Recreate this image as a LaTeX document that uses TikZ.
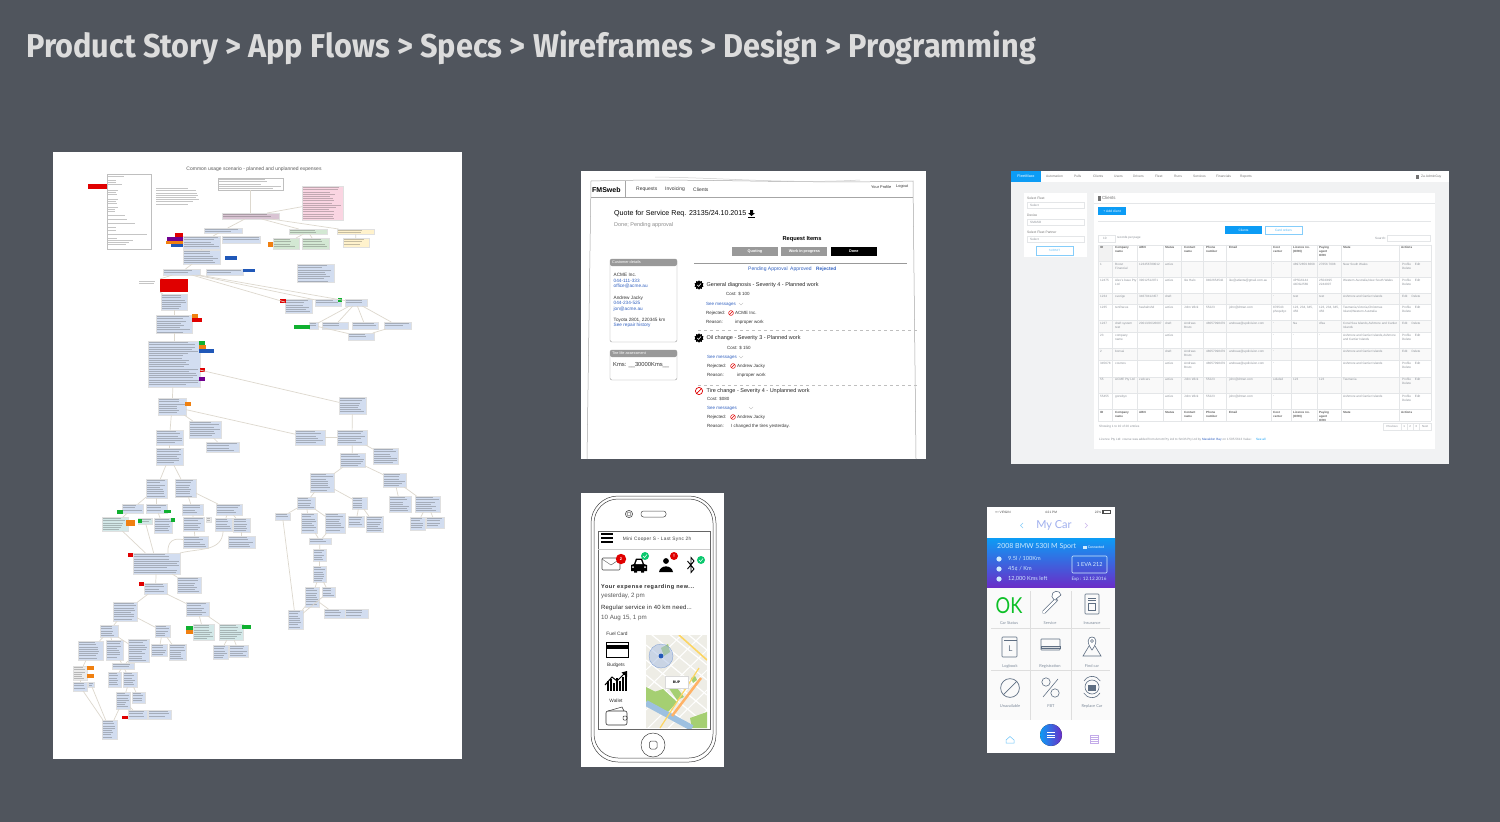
\documentclass[tikz,border=0pt]{standalone}
\usepackage{fontspec}
\setmainfont{Liberation Sans}
\newfontfamily\titlefont{Fira Sans}
\newfontfamily\carfont{Lato}
\usetikzlibrary{shapes.geometric, positioning}

\definecolor{slidebg}{HTML}{50555D}
\definecolor{titlegrey}{HTML}{DCDCDC}
\definecolor{flowblue}{HTML}{D2DDF0}
\definecolor{flowgreen}{HTML}{D3E8D3}
\definecolor{flowyellow}{HTML}{FFF2CC}
\definecolor{flowpink}{HTML}{FAD5E2}
\definecolor{flowmauve}{HTML}{D9C4D3}
\definecolor{flowteal}{HTML}{D3E8E8}
\definecolor{flowline}{HTML}{DDD8CE}
\definecolor{barred}{HTML}{E00000}
\definecolor{barorange}{HTML}{F08010}
\definecolor{bargreen}{HTML}{10B030}
\definecolor{barblue}{HTML}{2058B8}
\definecolor{barpurple}{HTML}{700090}
\definecolor{linkblue}{HTML}{3060C0}
\definecolor{cardgrey}{HTML}{999999}
\definecolor{sky}{HTML}{0C9CF5}
\definecolor{tabletext}{HTML}{8A8F96}
\definecolor{tableline}{HTML}{E4E6E8}
\definecolor{pagegrey}{HTML}{F1F2F3}
\definecolor{slate}{HTML}{5E6E82}
\definecolor{violet}{HTML}{6A2EC8}
\definecolor{mapbeige}{HTML}{EEEDE6}
\definecolor{mapgreen}{HTML}{A5CF72}
\definecolor{mapwater}{HTML}{9DC0E0}

\tikzset{
	flowbox/.style = {draw = black!12, line width = 0.3pt, inner sep = 0, outer sep = 0},
	inkline/.style = {draw = black!75, line width = 0.9pt, opacity = 0.3},
	connector/.style = {draw = flowline, line width = 0.7pt},
	wiretext/.style = {anchor = west, inner sep = 0, font = \fontsize{4.5}{5}\selectfont, text = black!80},
	wirehead/.style = {anchor = west, inner sep = 0, font = \fontsize{5.5}{6}\selectfont, text = black!85},
	wirelink/.style = {wiretext, text = linkblue},
	wirebtn/.style = {inner sep = 0, minimum height = 9pt, minimum width = 46pt, font = \bfseries\fontsize{3.8}{4}\selectfont, text = white},
	cell/.style = {anchor = north west, align = left, inner sep = 0, font = \fontsize{3.1}{4}\selectfont, text = tabletext},
	navtext/.style = {anchor = west, inner sep = 0, font = \fontsize{3.3}{4}\selectfont, text = black!55},
	phonetext/.style = {anchor = west, inner sep = 0, font = \fontsize{6.2}{7}\selectfont, text = black!85},
	cartext/.style = {inner sep = 0, font = \carfont\fontsize{4}{5}\selectfont, text = slate!80},
	banner/.style = {anchor = west, inner sep = 0, font = \carfont\fontsize{5.6}{6}\selectfont, text = white!80!sky},
	caricon/.style = {draw = slate, line width = 0.6pt},
	stopsign/.pic = {
		\draw [pic actions] (0, 0) circle (1);
		\draw [pic actions] (-0.7, 0.7) -- (0.7, -0.7);
	},
	badge/.pic = {
		\node [star, star points = 10, star point ratio = 1.3, fill = black, inner sep = 0, minimum size = 9.5pt] {};
		\draw [white, line width = 0.6pt] (-1.8, 0) -- (-0.4, 1.4) -- (2, -1.5);
	},
}

% boxes of the flow chart: name/x0/y0/x1/y1, each filled with lines of small print
\newcommand{\flowboxes}[2]{%
	\foreach \n/\xa/\ya/\xb/\yb in {#2} {
		\pgfmathsetmacro\bw{\xb - \xa}
		\pgfmathsetmacro\bh{\yb - \ya}
		\node [flowbox, #1, minimum width = \bw pt, minimum height = \bh pt] (\n) at ({(\xa + \xb) / 2}, {(\ya + \yb) / 2}) {};
		\pgfmathsetmacro\ltop{\ya + 1.6}
		\pgfmathsetmacro\lnext{\ya + 3.8}
		\pgfmathsetmacro\lend{\yb - 1}
		\foreach \ly in {\ltop, \lnext, ..., \lend} {
			\pgfmathsetmacro\ll{(\bw - 2) * (0.65 + 0.35 * rnd)}
			\ifdim \ly pt < \lend pt
				\draw [inkline] (\xa + 1, \ly) -- ++(\ll, 0);
			\fi
		}
	}
}

\begin{document}
\begin{tikzpicture}[x = 1pt, y = -1pt]
	\pgfmathsetseed{42}
	\useasboundingbox (0, 0) rectangle (1500, 822);
	\fill [slidebg] (0, 0) rectangle (1500, 822);

	\node [anchor = west, inner sep = 0, text = titlegrey, font = \titlefont\bfseries\fontsize{33}{36}\selectfont] (title) at (26, 47.5)
		{\scalebox{0.93}[1]{Product Story > App Flows > Specs > Wireframes > Design > Programming}};

	% product story flow chart
	\fill [white] (53, 152) rectangle (462, 759);
	\node [inner sep = 0, text = black!65, font = \fontsize{5}{6}\selectfont] (storytitle) at (254, 169) {Common usage scenario - planned and unplanned expenses};

	\node [flowbox, draw = black!25, minimum width = 44pt, minimum height = 75pt] (legend) at (129, 211.5) {};
	\foreach \y/\w in {176/16, 180.5/8, 182.5/8, 184.5/14, 190.5/10, 192.5/8, 194.5/9, 199/10, 201/8, 203/9, 207.5/10, 209.5/7, 211.5/7, 215.5/17, 219.5/19, 223.5/27, 227.5/8, 230/8, 234/39, 238.5/9, 240.5/25, 242.5/21, 244.5/18}
		\draw [inkline, line width = 0.6pt] (108, \y) -- ++(\w, 0);
	\flowboxes{fill = white, draw = black!25}{top/218/178/283/190}
	\flowboxes{draw = none}{note/155/187/202/205, side/138/280/157/286}
	\flowboxes{fill = flowpink}{pink/302/186/343/220}
	\flowboxes{fill = flowmauve}{mauve/222/213/279/219}
	\flowboxes{fill = flowgreen}{gh/289/229/327/234, g2/273/238/299/249, g3/302/238/329/249}
	\flowboxes{fill = flowyellow}{yh/337/229/374/234, y2/343/238/369/247}
	\flowboxes{fill = flowteal}{a5/102/517/128/531, a6/138/518/152/524, e3/193/624/214/640, e4/219/624/243/640}
	\flowboxes{fill = black!8}{gmap/73/666/87/680, a10b/206/517/211/522}
	\flowboxes{fill = flowblue}{
		b1/204/228/242/233, b2/183/236/220/249, b3/222/236/260/243, b4/183/250/220/264,
		b5/163/269/200/275, b6/206/269/243/275, b7/297/264/334/282, b8/161/294/187/310,
		b9/156/315/192/333, b10/285/299/312/313, b11/315/299/341/306, b12/345/299/367/306,
		b13/309/322/318/329, b14/322/322/348/329, b15/352/322/378/329, b16/384/322/411/329,
		b17/348/333/374/340, big/148/341/200/387, b18/158/398/186/415, b19/339/397/366/414,
		b20/156/430/183/445, b21/189/421/221/438, b22/206/442/239/452, b23/295/430/325/445,
		b24/337/430/367/445, b25/156/448/183/465, b26/340/453/365/467, b27/373/448/398/464,
		a1/146/479/167/498, a2/175/479/196/497, a3/122/504/143/513, a4/146/504/167/513,
		a7/154/518/172/533, a8/182/504/203/515, a9/216/504/242/515, a10/183/517/204/531,
		a11/215/518/232/531, a12/233/518/250/532, a13/183/536/208/548, a14/228/536/255/548,
		bigb/133/553/180/574, c1/177/577/201/593, c2/144/583/167/594, d1/113/602/137/621,
		d2/186/602/209/616, e1/100/625/118/637, e2/155/625/170/637, f1/78/641/103/660,
		f2/106/640/123/660, f3/128/639/149/662, f4/151/644/167/656, f5/169/644/186/660,
		f6/213/645/228/659, f7/229/645/248/657, g0/112/663/134/669, g1/108/672/121/687,
		g2b/123/672/137/687, h1/73/682/87/691, h2/88/682/94/687, i1/116/692/130/709,
		i2/132/692/145/703, j1/128/710/147/719, j2/148/710/171/719, k1/102/720/117/739,
		r1/310/473/334/492, r2/383/473/406/487, r3/297/497/315/509, r4/352/497/367/509,
		r5/389/496/411/512, r6/415/496/440/512, r7/275/513/290/520, r8/301/513/317/533,
		r9/325/513/345/533, r10/348/516/364/527, r11/366/516/383/532, r12/410/517/425/530,
		r13/426/517/444/528, r14/309/538/331/544, r15/313/549/326/561, r16/313/566/326/582,
		r17/305/587/319/607, r18/322/587/335/597, r19/288/610/303/629, r20/324/609/345/618,
		r21/345/609/368/618}
	\foreach \c/\xa/\ya/\xb/\yb in {
		barred/88/184/107/189, barred/175/233/183/237, barpurple/167/237/183/241, barorange/166/241/183/244,
		barblue/171/244/183/247, barorange/268/242/273/247, barblue/225/256/237/260, barblue/243/269/255/272,
		barred/160/279/188/292, barorange/192/314/198/318, barred/192/318/202/322, barred/280/299/286/303,
		bargreen/338/298/342/302, bargreen/294/325/310/329, bargreen/199/341/205/345, barorange/199/345/206/349,
		barblue/199/349/214/353, barred/200/368/205/372, barpurple/199/377/205/381, barorange/185/402/191/406,
		bargreen/117/510/123/514, bargreen/164/510/171/513, barorange/126/520/135/526, bargreen/138/519/142/523,
		bargreen/171/518/175/522, barred/128/553/133/557, barred/139/582/144/586, bargreen/186/626/193/630,
		barorange/186/630/193/634, bargreen/242/625/251/629, barorange/87/666/94/670, barorange/87/674/94/678,
		barred/122/716/128/719}
		\fill [\c] (\xa, \ya) rectangle (\xb, \yb);
	\foreach \p/\q in {
		top/mauve, mauve/pink, mauve/b1, mauve/gh, mauve/yh, gh/g2, gh/g3, yh/y2, b1/b2, b2/b4, b4/b5, b5/b10, b5/b11, b5/b12,
		b12/b13, b12/b14, b12/b15, b12/b16, b13/b17, b16/b17, b8/b9, b9/big, big/b18, big/b19, b18/b20, b18/b21,
		b18/b23, b21/b22, b19/b24, b23/b24, b24/b26, b24/b27, b20/b25, b25/a1, b25/a2, a1/a3, a1/a4, a3/a5, a4/a7,
		a2/a8, a2/a9, a8/a10, a9/a11, a9/a12, a10/a13, a12/a14, a5/bigb, a6/bigb, bigb/c1, bigb/c2, c2/d1, c2/d2,
		d1/e1, d1/e2, d2/e3, d2/e4, e1/f1, e1/f2, e1/f3, e2/f4, e2/f5, e4/f6, e4/f7, f2/g0, f3/g0, g0/g1, g0/g2b,
		f1/gmap, gmap/h1, g2b/i1, g2b/i2, i1/j1, i1/k1, h1/k1, h2/k1, b26/r1, b26/r2, r1/r3, r1/r4, r2/r5, r2/r6,
		r3/r7, r3/r8, r3/r9, r4/r10, r4/r11, r6/r12, r6/r13, r8/r14, r9/r14, r14/r15, r15/r16, r16/r17, r16/r18,
		r17/r19, r18/r19, r17/r20, r19/r7, r20/r21}
		\draw [connector] (\p) -- (\q);
	\draw [connector] (b5) -- (160, 279);
	\draw [connector] (160, 292) -- (b8);
	\draw [connector] (a13) .. controls (175, 538) and (167, 540) .. (168, 553);
	\draw [connector] (a11) .. controls (222, 552) and (200, 548) .. (180, 553);

	% specs wireframe
	\fill [white] (581, 171) rectangle (926, 459);
	\draw [black!35, line width = 0.5pt] (591, 181) .. controls (700, 178) and (800, 184) .. (913, 181) -- (916, 459);
	\draw [black!35, line width = 0.5pt] (591, 181) -- (587, 459);
	\draw [black!20, line width = 0.5pt] (655, 177) .. controls (730, 178) and (790, 184) .. (860, 180);
	\draw [black!35, line width = 0.5pt] (591, 197) -- (913, 197);
	\draw [black!35, line width = 0.5pt] (625, 181) -- (625, 197);
	\node [anchor = west, inner sep = 0, font = \bfseries\fontsize{7}{8}\selectfont] (brand) at (592, 190) {FMSweb};
	\foreach \x/\t in {636/Requests, 665/Invoicing, 693/Clients}
		\node [wiretext, font = \fontsize{5}{6}\selectfont] (nav\t) at (\x, 189.5) {\t};
	\node [wiretext, font = \fontsize{3.9}{4}\selectfont] (profile) at (871, 187) {Your Profile};
	\node [wiretext, font = \fontsize{3.9}{4}\selectfont] (logout) at (896, 187) {Logout};
	\node [anchor = west, inner sep = 0, font = \fontsize{7.1}{8}\selectfont] (quote) at (614, 213.5) {Quote for Service Req. 23135/24.10.2015};
	\fill (750, 210) rectangle (753, 213) -- (755, 213) -- (751.5, 216) -- (748, 213) -- (750, 213);
	\draw [line width = 0.7pt] (748, 217.5) -- (755, 217.5);
	\node [wiretext, font = \fontsize{5.5}{6}\selectfont, text = black!45] (state) at (614, 225.5) {Done; Pending approval};
	\node [inner sep = 0, font = \bfseries\fontsize{5.7}{6}\selectfont] (items) at (802, 239) {Request Items};
	\node [wirebtn, fill = cardgrey] (quoting) at (755, 251.5) {Quoting};
	\node [wirebtn, fill = cardgrey, right = 3pt of quoting] (progress) {Work in progress};
	\node [wirebtn, fill = black, right = 3pt of progress] (done) {Done};
	\draw [black!40, line width = 0.5pt] (694, 263.5) -- (907, 263.5);
	\node [wirelink, font = \fontsize{5}{6}\selectfont] (pending) at (748, 269) {Pending Approval};
	\node [wirelink, font = \fontsize{5}{6}\selectfont] (approved) at (790, 269) {Approved};
	\node [wirelink, font = \bfseries\fontsize{4.8}{6}\selectfont] (rejected) at (816, 269) {Rejected};

	\draw [black!40, fill = white, rounded corners = 2pt] (610, 259) rectangle (677, 342);
	\fill [cardgrey, rounded corners = 2pt] (610, 259) rectangle (677, 266);
	\node [wiretext, text = white, font = \fontsize{3.8}{4}\selectfont] (custhead) at (612, 262.5) {Customer details};
	\draw [black!40, fill = white, rounded corners = 2pt] (610, 350) rectangle (677, 380);
	\fill [cardgrey, rounded corners = 2pt] (610, 350) rectangle (677, 357);
	\node [wiretext, text = white, font = \fontsize{3.8}{4}\selectfont] (tirehead) at (612, 353.5) {Tire life assessment};
	\node [wiretext, font = \fontsize{5.8}{7}\selectfont] (kms) at (613, 365) {Kms: \_\_30000Kms\_\_};
	\foreach \y/\t [count = \i] in {275/ACME Inc., 298/Andrew Jacky, 320/{Toyota 2801, 220345 km}}
		\node [wiretext, font = \fontsize{4.7}{5}\selectfont] (cust\i) at (613.5, \y) {\t};
	\foreach \y/\t [count = \i] in {281/044-111-333, 286/office@acme.au, 303/044-234-525, 309/jon@acme.au, 325/See repair history}
		\node [wirelink, font = \fontsize{4.7}{5}\selectfont] (contact\i) at (613.5, \y) {\t};

	\foreach \y/\t [count = \i] in {285/General diagnosis - Severity 4 - Planned work, 338/Oil change - Severity 3 - Planned work, 391/Tire change - Severity 4 - Unplanned work}
		\node [wirehead] (item\i) at (706.5, \y) {\t};
	\pic at (699, 285) {badge};
	\pic at (699, 338) {badge};
	\pic [draw = barred, line width = 0.7pt, scale = 3.6] at (699, 391) {stopsign};
	\foreach \x/\y/\t [count = \i] in {
		726/294/{Cost: \$ 100}, 727/348/{Cost: \$ 150}, 707/399/{Cost: \$080},
		706/313/Rejected:, 735/313/ACME Inc., 706/322/Reason:, 735/322/improper work,
		707/366/Rejected:, 737/366/Andrew Jacky, 707/375/Reason:, 737/375/improper work,
		707/417/Rejected:, 737/417/Andrew Jacky, 707/426/Reason:, 731/426/I changed the tires yesterday.}
		\node [wiretext] (detail\i) at (\x, \y) {\t};
	\foreach \x/\y [count = \i] in {706/304, 707/357, 707/408}
		\node [wirelink] (messages\i) at (\x, \y) {See messages};
	\foreach \x/\y in {741/304, 741/357, 751/408}
		\draw [black!35, line width = 0.3pt] (\x - 2, \y - 1) -- (\x, \y + 1) -- (\x + 2, \y - 1);
	\foreach \x/\y in {731/313, 733/366, 733/417}
		\pic [draw = barred, line width = 0.5pt, scale = 2.4] at (\x, \y) {stopsign};
	\foreach \y in {330, 385}
		\draw [black!25, dashed, line width = 0.3pt] (698, \y) -- (919, \y);

	% programming: the running web application
	\fill [pagegrey] (1011, 171) rectangle (1449, 464);
	\fill [white] (1011, 171) rectangle (1449, 182);
	\fill [sky] (1011, 171) rectangle (1041, 182);
	\node [inner sep = 0, text = white, font = \fontsize{3.7}{4}\selectfont] (brandapp) at (1026, 176.5) {FleetMaxx};
	\foreach \x/\t in {1046/Automation, 1074/Pulls, 1093/Clients, 1114/Users, 1133/Drivers, 1155/Fleet, 1174/Runs, 1193/Services, 1216/Financials, 1240/Reports}
		\node [navtext] (app\t) at (\x, 176.5) {\t};
	\node [navtext] (admin) at (1421, 176.5) {Za AdminGuy};
	\fill [black!55] (1416, 174.5) rectangle (1419, 178.5);

	\fill [white] (1024, 193) rectangle (1087, 257);
	\foreach \y/\t/\v [count = \i] in {198/Select Fleet/Select, 215/Device/SMASO, 232/Select Fleet Partner/Select} {
		\node [navtext] (fleetlabel\i) at (1027, \y) {\t};
		\draw [tableline, line width = 0.4pt] (1027, \y + 4) rectangle (1084, \y + 10);
		\node [cell, anchor = west] (fleetvalue\i) at (1030, \y + 7) {\v};
	}
	\node [draw = sky!50, line width = 0.5pt, fill = white, inner sep = 0, minimum width = 37pt, minimum height = 8.5pt, text = sky!60, font = \fontsize{3}{4}\selectfont] (submit) at (1054.5, 250.5) {SUBMIT};

	\fill [white] (1094, 193) rectangle (1435, 449);
	\draw [tableline, line width = 0.4pt] (1094, 203) -- (1435, 203);
	\draw [tableline, line width = 0.4pt] (1098, 221) -- (1431, 221);
	\fill [black!55] (1098, 196) rectangle (1101, 200.5);
	\node [navtext, font = \fontsize{4.4}{5}\selectfont] (clients) at (1102, 198) {Clients};
	\node [fill = sky, inner sep = 0, minimum width = 28pt, minimum height = 8pt, text = white, font = \fontsize{3.3}{4}\selectfont] (addclient) at (1112, 211) {+ Add client};
	\node [fill = sky, inner sep = 0, minimum width = 37pt, minimum height = 8pt, text = white, font = \fontsize{3.2}{4}\selectfont] (tabclients) at (1243.5, 230) {Clients};
	\node [draw = sky!50, line width = 0.5pt, inner sep = 0, minimum width = 37pt, minimum height = 8pt, text = sky!70, font = \fontsize{3.2}{4}\selectfont] (taborders) at (1283.5, 230) {Card orders};
	\draw [tableline, line width = 0.4pt] (1098, 235) rectangle (1115, 242);
	\node [cell, anchor = west] (pagesize) at (1103, 238.5) {10};
	\node [cell, anchor = west] (perpage) at (1117, 238) {records per page};
	\node [cell, anchor = west] (search) at (1375, 238) {Search:};
	\draw [tableline, line width = 0.4pt] (1387, 235) rectangle (1430, 241);

	\foreach \ya/\yb in {260.7/276.7, 293.3/303.7, 320/332, 348.3/360.3, 376.7/393}
		\fill [black!2.5] (1098.3, \ya) rectangle (1430.7, \yb);
	\fill [black!5] (1098.3, 244.7) rectangle (1112.3, 260.7);
	\foreach \y in {244.7, 260.7, 276.7, 293.3, 303.7, 320, 332, 348.3, 360.3, 376.7, 393, 409.3, 421.3}
		\draw [tableline, line width = 0.3pt] (1098.3, \y) -- (1430.7, \y);
	\foreach \x in {1098.3, 1112.3, 1137.3, 1163.3, 1181.3, 1203.3, 1226.3, 1270.7, 1291.3, 1317.3, 1341.3, 1399.3, 1430.7}
		\draw [tableline, line width = 0.3pt] (\x, 244.7) -- (\x, 421.3);
	\foreach \y in {246, 411} {
		\foreach \x/\t in {1100/ID, 1115/Company\\name, 1139/ABN, 1165/Status, 1184/Contact\\name, 1206/Phone\\number, 1229/Email, 1273/Cost\\center, 1293/Licence no.\\(ORN), 1319/Paying\\agent\\ORN, 1343/State, 1401/Actions}
			\node [cell, text = black!65, font = \bfseries\fontsize{3}{4}\selectfont] at (\x, \y) {\t};
	}
	\foreach \y/\t in {263/Boost\\Financial, 279.5/Alex's base Pty\\Ltd, 295.5/sverige, 306/tenRacus, 322/draft system\\test, 334.5/company\\name, 350.5/bonsai, 362.5/cosmos, 378.5/ACME Pty Ltd, 395/gorwbyn}
		\node [cell] at (1115, \y) {\t};
	\foreach \y/\t in {263/1, 279.5/12475, 295.5/1234, 306/1235, 322/1237, 334.5/23, 350.5/2, 362.5/345678, 378.5/55, 395/55455}
		\node [cell] at (1100, \y) {\t};
	\foreach \y/\t in {263/active, 279.5/active, 295.5/draft, 306/active, 322/draft, 334.5/active, 350.5/draft, 362.5/active, 378.5/active, 395/active}
		\node [cell] at (1165, \y) {\t};
	\foreach \y/\t in {263/123456789012, 279.5/39012512971, 295.5/34670412457, 306/hashahshd, 322/{20013/26/26097}, 378.5/zedcars}
		\node [cell] at (1139, \y) {\t};
	\foreach \y/\t in {279.5/Ike Halo, 306/John Wick, 322/Andreas\\Bruto, 350.5/Andreas\\Bruto, 362.5/Andreas\\Bruto, 378.5/John Wick, 395/John Wick}
		\node [cell] at (1184, \y) {\t};
	\foreach \y/\t in {279.5/0402654542, 306/55223, 322/48057098479, 350.5/48057098479, 362.5/48057098479, 378.5/55223, 395/55223}
		\node [cell] at (1206, \y) {\t};
	\foreach \y/\t in {279.5/ike@atlanta@gmail.com.au, 306/john@drtran.com, 322/andreas@updivision.com, 350.5/andreas@updivision.com, 362.5/andreas@updivision.com, 378.5/john@drtran.com, 395/john@drtran.com}
		\node [cell] at (1229, \y) {\t};
	\foreach \y/\t in {263/-, 279.5/-, 295.5/-, 306/876543\\phoqeltyc, 322/-, 334.5/-, 350.5/-, 362.5/-, 378.5/sdsdsd, 395/-}
		\node [cell] at (1273, \y) {\t};
	\foreach \y/\t in {263/48972859 8668, 279.5/4P5G6144\\44DG2569, 295.5/test, 306/{123, 234, 345,\\456}, 322/Na, 334.5/-, 378.5/123}
		\node [cell] at (1293, \y) {\t};
	\foreach \y/\t in {263/27656 7008, 279.5/{2504/495\\2244007}, 295.5/test, 306/{123, 234, 345,\\456}, 322/dfsa, 334.5/-, 378.5/123}
		\node [cell] at (1319, \y) {\t};
	\foreach \y/\t in {263/New South Wales, 279.5/{Western Australia,New South Wales}, 295.5/Ashmore and Cartier Islands, 306/{Tasmania,Victoria,Christmas\\Island,Western Australia}, 322/{Coral Sea Islands,Ashmore and Cartier\\Islands}, 334.5/{Ashmore and Cartier Islands,Ashmore\\and Cartier Islands}, 350.5/Ashmore and Cartier Islands, 362.5/Ashmore and Cartier Islands, 378.5/Tasmania, 395/Ashmore and Cartier Islands}
		\node [cell] at (1343, \y) {\t};
	\foreach \y in {263, 279.5, 306, 334.5, 362.5, 378.5, 395}
		\node [cell] at (1402, \y) {Profile \quad Edit\\Delete};
	\foreach \y in {295.5, 322, 350.5}
		\node [cell] at (1402, \y) {Edit \quad Delete};
	\node [cell, anchor = west] (showing) at (1099, 427) {Showing 1 to 10 of 20 entries};
	\foreach \xa/\xb/\t [count = \i] in {1383/1401/Previous, 1401/1407/1, 1407/1413/2, 1413/1419/3, 1419/1431/Next}
		\node [draw = tableline, line width = 0.3pt, inner sep = 0, minimum width = \xb pt - \xa pt, minimum height = 7pt, anchor = west, font = \fontsize{2.9}{4}\selectfont, text = tabletext] (page\i) at (\xa, 426.5) {\t};
	\node [cell, anchor = west] (licence) at (1099, 440) {Licence Pty Ltd: course was added from Arnott Pty Ltd to Smith Pty Ltd by \textcolor{linkblue}{Maxaldon Bay} on 1.505.5613 Value: \quad \textcolor{sky}{See all}};

	% wireframe of the phone app
	\fill [white] (581, 493) rectangle (724, 767);
	\draw [black!75, line width = 0.5pt, rounded corners = 27pt] (591, 496) rectangle (716, 762);
	\draw [black!75, line width = 0.5pt, rounded corners = 24pt] (594, 499) rectangle (713, 758);
	\draw [black!60, line width = 0.5pt] (598, 531) rectangle (710, 729);
	\draw [black!70, line width = 0.6pt] (629, 514) circle (3.6);
	\draw [black!70, line width = 0.4pt] (629, 514) circle (2);
	\draw [black!70, line width = 0.5pt, rounded corners = 2.5pt] (641, 511) rectangle (666, 517);
	\draw [black!75, line width = 0.5pt] (653, 745) circle (12);
	\draw [black!75, line width = 0.5pt, rounded corners = 1.5pt] (649.5, 741) rectangle (657, 749);
	\foreach \y in {534, 538, 542}
		\fill (601, \y - 0.9) rectangle (613, \y + 0.9);
	\node [inner sep = 0, font = \fontsize{4.8}{6}\selectfont, text = black!75] (sync) at (657, 539) {\addfontfeature{LetterSpace=6}Mini Cooper S - Last Sync 2h};
	\draw [black!20, line width = 0.4pt] (598, 549) -- (710, 549);

	\draw [black!70, line width = 0.6pt, rounded corners = 1pt] (602, 558) rectangle (620, 570);
	\draw [black!70, line width = 0.4pt] (602, 559) -- (611, 565) -- (620, 559);
	\fill [barred] (621, 559) circle (5.2);
	\node [inner sep = 0, text = white, font = \bfseries\fontsize{4}{5}\selectfont] (mailcount) at (621, 559) {2};
	\fill (634, 564) -- (636, 558.5) -- (642, 558.5) -- (644, 564) -- (647, 565) -- (647, 571) -- (631, 571) -- (631, 565) -- cycle;
	\fill [white] (635.5, 564) -- (637, 560) -- (641, 560) -- (642.5, 564) -- cycle;
	\fill [white] (633, 567) circle (1) (645, 567) circle (1);
	\fill (634, 571) rectangle (637, 572.5) (641, 571) rectangle (644, 572.5);
	\fill [bargreen!70!cyan] (645, 556) circle (4);
	\draw [white, line width = 0.5pt] (643, 556) -- (644.5, 557.5) -- (647, 554.5);
	\fill (666, 561) circle (2.9);
	\fill (659, 572) .. controls (660, 564.5) and (672, 564.5) .. (673, 572) -- cycle;
	\fill [barred] (674, 556) circle (4);
	\node [inner sep = 0, text = white, font = \bfseries\fontsize{4.5}{5}\selectfont] (alert) at (674, 556) {!};
	\draw [line width = 0.9pt] (687.5, 561) -- (694, 569) -- (691, 572.5) -- (691, 557.5) -- (694, 561) -- (687.5, 569);
	\fill [bargreen!70!cyan] (701, 560) circle (4);
	\draw [white, line width = 0.5pt] (699, 560) -- (700.5, 561.5) -- (703, 558.5);

	\node [phonetext, font = \bfseries\fontsize{5.5}{7}\selectfont] (expense) at (601, 587) {\addfontfeature{LetterSpace=10}Your expense regarding new...};
	\node [phonetext, text = black!65] (yesterday) at (601, 595.5) {yesterday, 2 pm};
	\node [phonetext, font = \fontsize{6}{7}\selectfont] (regular) at (601, 608) {\addfontfeature{LetterSpace=3}Regular service in 40 km need...};
	\node [phonetext, text = black!65] (dated) at (601, 618) {10 Aug 15, 1 pm};
	\foreach \x/\y/\t in {617/634/Fuel Card, 616/665/Budgets, 616/701/Wallet}
		\node [inner sep = 0, font = \fontsize{4.8}{6}\selectfont, text = black!80] (menu\t) at (\x, \y) {\t};
	\draw [line width = 0.6pt] (606, 642) rectangle (628, 657);
	\fill (606, 645) rectangle (628, 649);
	\foreach \x/\h in {607/681, 610/679, 613/683, 616/678, 619/681, 622/677, 625/675}
		\fill (\x, \h) rectangle (\x + 1.8, 691);
	\draw [line width = 1pt] (605, 685) -- (612, 677) -- (617, 681) -- (625, 673);
	\fill (627, 671) -- (627, 677) -- (621.5, 672.5) -- cycle;
	\draw [black!80, line width = 0.6pt, rounded corners = 2pt] (606, 711) rectangle (627, 725);
	\draw [black!80, line width = 0.5pt] (608, 711) -- (622, 707) -- (624, 711);
	\draw [black!80, line width = 0.5pt, rounded corners = 1pt] (623, 716) rectangle (627, 720);

	\begin{scope}
		\clip (646, 635) rectangle (707, 728);
		\fill [mapbeige] (646, 635) rectangle (707, 728);
		\foreach \d in {-40, -25, -10, 5, 20, 35, 50}
			\draw [white, line width = 1.2pt] (646, 640 + \d) -- (707, 690 + \d);
		\foreach \d in {-30, -10, 10, 30, 50, 70}
			\draw [white, line width = 1pt] (646, 700 + \d) -- (707, 640 + \d);
		\fill [mapgreen] (654, 692) -- (663, 689) -- (677, 702) -- (668, 712) -- (646, 700) -- cycle;
		\fill [mapgreen] (668, 687) -- (674, 684) -- (684, 697) -- (677, 700) -- cycle;
		\fill [mapgreen] (646, 687) -- (658, 693) -- (646, 702) -- cycle;
		\fill [mapgreen] (691, 678) -- (695, 676) -- (697, 680) -- (693, 683) -- cycle;
		\fill [mapgreen] (690, 718) -- (707, 712) -- (707, 728) -- (692, 728) -- cycle;
		\fill [mapgreen] (661, 648) -- (668, 644) -- (670, 652) -- (664, 656) -- cycle;
		\draw [mapwater, line width = 6pt] (646, 703) -- (692, 728);
		\draw [yellow!50!orange!60, line width = 1.6pt] (679, 635) -- (707, 660);
		\draw [yellow!50!orange!60, line width = 1.2pt] (699, 668) -- (660, 728);
		\draw [orange!60, line width = 2.5pt] (701, 678) -- (672, 716);
	\end{scope}
	\fill [barblue!40, fill opacity = 0.5] (661, 656) circle (12);
	\draw [barblue!60, line width = 0.3pt] (661, 656) circle (12);
	\fill [barblue] (661, 656) circle (2.4);
	\node [draw = black!15, fill = white, inner sep = 0, minimum width = 23pt, minimum height = 12pt, font = \bfseries\fontsize{3.5}{4}\selectfont] (bup) at (676.5, 682) {BUP};

	% design of the phone app
	\fill [white] (987, 507) rectangle (1115, 753);
	\fill [black!2] (987, 587) rectangle (1115, 720);
	\foreach \x/\t [count = \i] in {1003/{\textbullet\textbullet\textbullet\ VIRGIN}, 1051/4:21 PM, 1098/22\%}
		\node [inner sep = 0, font = \fontsize{3.2}{4}\selectfont, text = black!70] (status\i) at (\x, 512) {\t};
	\draw [black!70, line width = 0.3pt] (1102, 510.5) rectangle (1110, 513.5);
	\fill [black!70] (1102, 510.5) rectangle (1104, 513.5);
	\node [inner sep = 0, font = \carfont\fontsize{11}{13}\selectfont, text = sky!45!violet!50] (mycar) at (1054, 525.5) {My Car};
	\draw [sky!50, line width = 0.5pt] (1023, 523) -- (1020.5, 525.5) -- (1023, 528);
	\draw [violet!35, line width = 0.5pt] (1085, 523) -- (1087.5, 525.5) -- (1085, 528);

	\fill [top color = sky, bottom color = violet] (987, 538) rectangle (1115, 587);
	\node [banner, font = \carfont\fontsize{7}{8}\selectfont] (model) at (997, 547) {2008 BMW 530I M Sport};
	\node [banner, font = \carfont\bfseries\fontsize{3.4}{4}\selectfont, anchor = center] (connected) at (1096, 547) {Connected};
	\fill [white!80!sky] (1083, 545.5) rectangle (1087, 548.5);
	\foreach \y/\t [count = \i] in {559/{9.5l / 100Km}, 569/{45¢ / Km}, 579/{12,000 Kms left}} {
		\node [banner] (stat\i) at (1008, \y) {\t};
		\fill [white!80!sky] (999, \y) circle (2.6);
	}
	\node [draw = white!80!sky, line width = 0.6pt, rounded corners = 1pt, inner sep = 0, minimum width = 35pt, minimum height = 17pt, text = white!85!sky, font = \carfont\fontsize{5.5}{6}\selectfont] (plate) at (1089.5, 564.5) {1 EVA 212};
	\node [banner, anchor = center, font = \carfont\fontsize{4.6}{6}\selectfont] (expiry) at (1089, 579) {Exp : 12.12.2016};

	\foreach \x in {1030, 1071}
		\draw [black!13, line width = 0.4pt] (\x, 591) -- (\x, 720);
	\foreach \y in {628, 670}
		\draw [black!13, line width = 0.4pt] (991, \y) -- (1110, \y);
	\node [inner sep = 0, text = bargreen!80!green, font = \carfont\fontsize{22}{24}\selectfont] (okay) at (1009, 605.5) {\scalebox{0.83}[1]{OK}};
	\foreach \x/\y/\t [count = \i] in {1009/623/Car Status, 1050/623/Service, 1092/623/Insurance, 1010/666/Logbook, 1050/666/Registration, 1092/666/Find car, 1010/706/Unavailable, 1051/706/FBT, 1092/706/Replace Car}
		\node [cartext] (tile\i) at (\x, \y) {\t};
	% wrench
	\draw [slate, line width = 3.6pt, line cap = round] (1044, 612) -- (1056, 600);
	\draw [white, line width = 2.4pt, line cap = round] (1044, 612) -- (1056, 600);
	\draw [caricon, fill = white] (1061, 595) arc (-10:-280:4.6) -- (1056, 599) -- (1061, 595);
	% insurance
	\draw [caricon, rounded corners = 0.8pt] (1085, 594) rectangle (1099, 614);
	\foreach \y in {598, 600.5}
		\draw [caricon, line width = 0.4pt] (1088, \y) -- (1096, \y);
	\draw [caricon] (1088.5, 603.5) rectangle (1095.5, 610);
	% logbook
	\draw [caricon, rounded corners = 0.8pt] (1002, 637) rectangle (1017, 657);
	\draw [caricon] (1004, 640) -- (1017, 640);
	\node [inner sep = 0, text = slate, font = \carfont\fontsize{8}{9}\selectfont] (logl) at (1010.5, 648.5) {L};
	% registration
	\draw [caricon, rounded corners = 0.5pt] (1041, 639) rectangle (1060, 650);
	\draw [caricon, fill = slate!25] (1041, 646) rectangle (1060, 648);
	% find car
	\draw [caricon] (1089, 646) -- (1083, 656) -- (1101, 656) -- (1095, 646);
	\draw [caricon, fill = white] (1092, 650) .. controls (1086, 642) and (1088, 637) .. (1092, 637) .. controls (1096, 637) and (1098, 642) .. (1092, 650) -- cycle;
	\draw [caricon] (1092, 641) circle (1.5);
	% unavailable
	\pic [caricon, line width = 0.7pt, scale = 9.4] at (1010, 688) {stopsign};
	% percent
	\draw [caricon] (1043, 697) -- (1058, 679);
	\draw [caricon] (1046, 682) circle (4.2) (1055, 693) circle (4.2);
	% replace
	\draw [caricon] (1092, 687) circle (7);
	\draw [caricon] (1084, 681) arc (-150:-30:9.4);
	\draw [caricon] (1100, 693) arc (30:150:9.4);
	\fill [slate] (1088, 685) rectangle (1096, 690.5);

	\fill [left color = sky, right color = violet] (1051, 735) circle (11);
	\foreach \y in {732.5, 735, 737.5}
		\draw [white, line width = 0.5pt] (1047, \y) -- (1055, \y);
	\draw [sky!60, line width = 0.5pt] (1006, 740) -- (1010, 736.5) -- (1014, 740) -- (1014, 743) -- (1006, 743) -- cycle;
	\draw [violet!40, line width = 0.5pt] (1090, 735) rectangle (1098, 743);
	\foreach \y in {737, 739, 741}
		\draw [violet!40, line width = 0.4pt] (1090, \y) -- (1098, \y);
\end{tikzpicture}
\end{document}
